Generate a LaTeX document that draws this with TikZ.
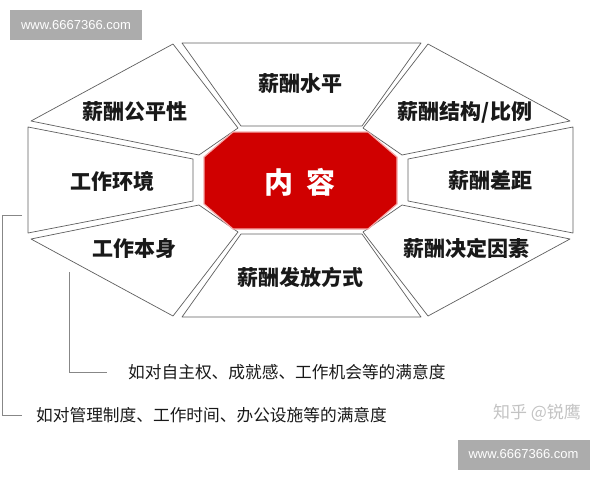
\documentclass[tikz,border=0pt]{standalone}
\usepackage{fontspec}
\setmainfont{Noto Sans CJK SC}
\newfontfamily\wmfont{Liberation Sans}
\definecolor{redc}{RGB}{208,0,0}
\definecolor{redglow}{RGB}{245,170,170}
\definecolor{edgec}{RGB}{95,95,95}
\definecolor{brk}{RGB}{135,135,135}
\definecolor{wmbox}{RGB}{172,172,172}
\definecolor{zhc}{RGB}{195,195,195}
\definecolor{txtc}{RGB}{25,25,25}
\begin{document}
\begin{tikzpicture}[x=1pt,y=-1pt,
  piece/.style={draw=edgec,fill=white,line width=0.7pt,line join=round},
  lab/.style={font=\fontsize{21}{21}\selectfont\bfseries,text=txtc,inner sep=0pt},
  note/.style={font=\fontsize{16.7}{17}\selectfont,text=txtc,inner sep=0pt,anchor=west},
  bracket/.style={draw=brk,line width=0.9pt},
  wm/.style={fill=wmbox,text=white,font=\wmfont\fontsize{13}{13}\selectfont,inner sep=0pt,minimum width=132pt,minimum height=30pt}]
\useasboundingbox (0,0) rectangle (600,480);
% pieces
\path[piece] (182,43) -- (421,43) -- (362,126) -- (241,126) -- cycle;
\path[piece] (31,121) -- (173,44) -- (238,128) -- (199,155) -- cycle;
\path[piece] (570,121) -- (428,44) -- (363,128) -- (402,155) -- cycle;
\path[piece] (28,127) -- (193,159) -- (193,201) -- (28,233) -- cycle;
\path[piece] (573,127) -- (408,159) -- (408,201) -- (573,233) -- cycle;
\path[piece] (31,239) -- (173,316) -- (238,232) -- (199,205) -- cycle;
\path[piece] (570,239) -- (428,316) -- (363,232) -- (402,205) -- cycle;
\path[piece] (182,317) -- (421,317) -- (362,234) -- (241,234) -- cycle;
% red centre
\path[fill=redc,draw=redglow,line width=1.2pt,line join=round]
  (233,132) -- (368,132) -- (397,157) -- (397,204) -- (368,229) -- (233,229) -- (204,204) -- (204,157) -- cycle;
\node[font=\fontsize{29}{29}\selectfont\bfseries,text=white,inner sep=0pt] (core) at (300.5,182) {内\hspace{0.45em}容};
% labels
\node[lab] (n1) at (300,84) {薪酬水平};
\node[lab] (n2) at (135,112) {薪酬公平性};
\node[lab] (n3) at (465,112) {薪酬结构/比例};
\node[lab] (n4) at (112,181) {工作环境};
\node[lab] (n5) at (490,181) {薪酬差距};
\node[lab] (n6) at (134,249) {工作本身};
\node[lab] (n7) at (466,248) {薪酬决定因素};
\node[lab] (n8) at (300,277) {薪酬发放方式};
% notes
\node[note] (inner) at (128,372) {如对自主权、成就感、工作机会等的满意度};
\node[note] (outer) at (36,415) {如对管理制度、工作时间、办公设施等的满意度};
% brackets
\coordinate (ib) at (69,272);
\coordinate (ob) at (22,215);
\draw[bracket] (ib) |- ([xshift=-21pt]inner.west);
\draw[bracket] (ob) -- ++(-20,0) |- ([xshift=-14pt]outer.west);
% watermarks
\node[wm] (w1) at (76,25) {www.6667366.com};
\node[wm] (w2) at (523.5,454.5) {www.6667366.com};
\node[font=\fontsize{17}{17}\selectfont,text=zhc,inner sep=0pt] (zh) at (537,413) {知乎 @锐鹰};
\end{tikzpicture}
\end{document}
